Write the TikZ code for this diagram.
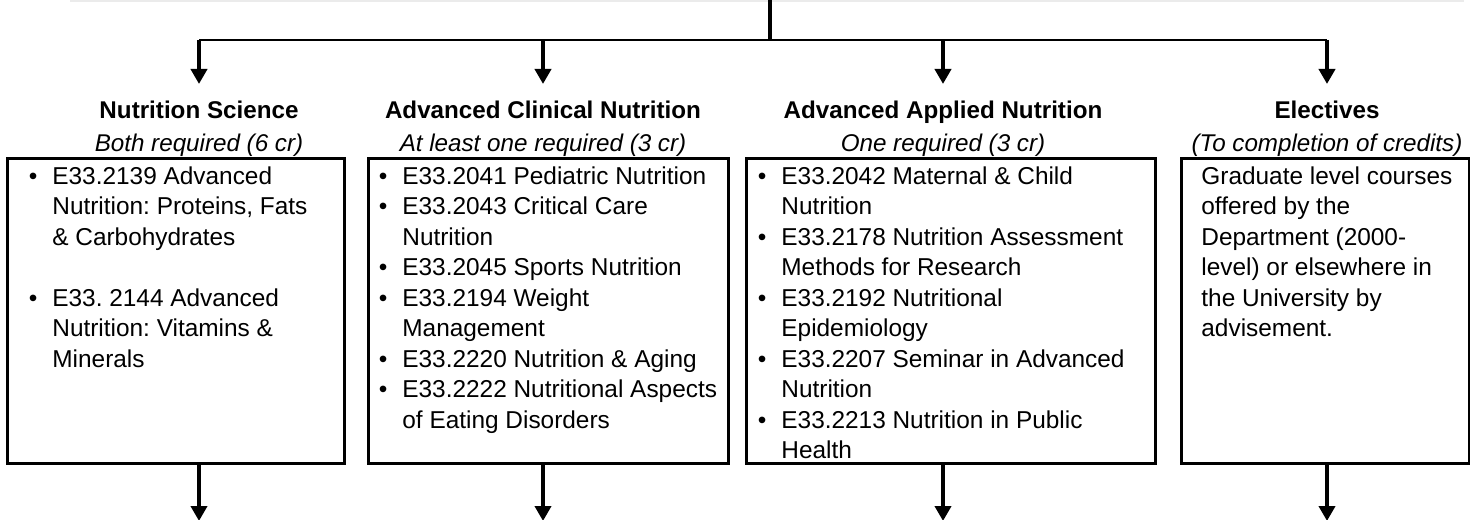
\documentclass[tikz,border=0pt]{standalone}
\usepackage{fontspec}
\setmainfont{Liberation Sans}
\usetikzlibrary{arrows.meta}

\tikzset{
  course/.style={draw, line width=1.5pt, inner sep=0pt, anchor=north west, minimum height=152.5pt},
  title/.style={anchor=base, inner sep=0pt, font=\fontsize{12.1pt}{15pt}\selectfont\bfseries},
  subtitle/.style={anchor=base, inner sep=0pt, font=\fontsize{12.1pt}{15pt}\selectfont\itshape},
  list/.style={align=left, anchor=north west, inner sep=0pt, font=\fontsize{12.2pt}{15.25pt}\selectfont},
  flow/.style={line width=2pt, -{Triangle[width=8pt,length=7.5pt]}},
}
\newcommand{\itm}{\makebox[11.75pt][l]{\textbullet}}
\newcommand{\cont}{\hspace*{11.75pt}}
\frenchspacing

\begin{document}
\begin{tikzpicture}[x=0.5pt,y=-0.5pt]
  \useasboundingbox (0,0) rectangle (1470,519);
  \draw[line width=1pt, black!8] (70,1) -- (1464,1);

  % split from the programme above
  \coordinate (hub) at (770,0);
  \coordinate (bar) at (770,40);
  \coordinate (s1) at (199,40);
  \coordinate (s2) at (543,40);
  \coordinate (s3) at (943,40);
  \coordinate (s4) at (1327,40);
  \coordinate (t1) at (199,84);
  \coordinate (t2) at (543,84);
  \coordinate (t3) at (943,84);
  \coordinate (t4) at (1327,84);
  \draw[line width=2pt] (hub) -- (bar);
  \draw[line width=1pt] (s1) -- (s4);
  \draw[flow] (s1) -- (t1);
  \draw[flow] (s2) -- (t2);
  \draw[flow] (s3) -- (t3);
  \draw[flow] (s4) -- (t4);

  % headings
  \node[title] (scihead) at (199,119) {Nutrition Science};
  \node[subtitle] (scisub) at (199,151) {Both required (6 cr)};
  \node[title] (clinhead) at (543,119) {Advanced Clinical Nutrition};
  \node[subtitle] (clinsub) at (543,151) {At least one required (3 cr)};
  \node[title] (applhead) at (943,119) {Advanced Applied Nutrition};
  \node[subtitle] (applsub) at (943,151) {One required (3 cr)};
  \node[title] (elechead) at (1327,119) {Electives};
  \node[subtitle] (elecsub) at (1327,151) {(To completion of credits)};

  % boxes
  \node[course, minimum width=168.5pt] (sci) at (6,157) {};
  \node[course, minimum width=180pt] (clin) at (367,157) {};
  \node[course, minimum width=204.5pt] (appl) at (745,157) {};
  \node[course, minimum width=144pt] (elec) at (1180,157) {};

  \node[list] (scilist) at (28.5,166) {%
    \itm E33.2139 Advanced\\
    \cont Nutrition: Proteins, Fats\\
    \cont \& Carbohydrates\\[15.25pt]
    \itm E33. 2144 Advanced\\
    \cont Nutrition: Vitamins \&\\
    \cont Minerals};
  \node[list] (clinlist) at (378.5,166) {%
    \itm E33.2041 Pediatric Nutrition\\
    \itm E33.2043 Critical Care\\
    \cont Nutrition\\
    \itm E33.2045 Sports Nutrition\\
    \itm E33.2194 Weight\\
    \cont Management\\
    \itm E33.2220 Nutrition \& Aging\\
    \itm E33.2222 Nutritional Aspects\\
    \cont of Eating Disorders};
  \node[list] (appllist) at (757.5,166) {%
    \itm E33.2042 Maternal \& Child\\
    \cont Nutrition\\
    \itm E33.2178 Nutrition Assessment\\
    \cont Methods for Research\\
    \itm E33.2192 Nutritional\\
    \cont Epidemiology\\
    \itm E33.2207 Seminar in Advanced\\
    \cont Nutrition\\
    \itm E33.2213 Nutrition in Public\\
    \cont Health};
  \node[list] (eleclist) at (1201,166) {%
    Graduate level courses\\
    offered by the\\
    Department (2000-\\
    level) or elsewhere in\\
    the University by\\
    advisement.};

  % on to the next stage
  \coordinate (o1) at (199,521);
  \coordinate (o2) at (543,521);
  \coordinate (o3) at (943,521);
  \coordinate (o4) at (1327,521);
  \draw[flow] (sci.south -| o1) -- (o1);
  \draw[flow] (clin.south -| o2) -- (o2);
  \draw[flow] (appl.south -| o3) -- (o3);
  \draw[flow] (elec.south -| o4) -- (o4);
\end{tikzpicture}
\end{document}
